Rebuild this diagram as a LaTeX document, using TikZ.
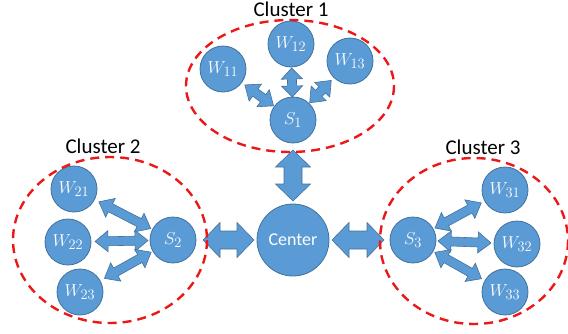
\documentclass[tikz,border=0pt]{standalone}
\usepackage{fontspec}
\setmainfont{Carlito}
\DeclareMathSizes{18}{18}{14}{11}
\usetikzlibrary{calc}
\definecolor{nodeblue}{RGB}{91,155,213}
\definecolor{nodeedge}{RGB}{65,113,156}
\definecolor{dashred}{RGB}{236,24,24}
\tikzset{
  wnode/.style={circle,fill=nodeblue,draw=nodeedge,line width=0.8pt,minimum size=46pt,inner sep=0pt,text=white,font=\fontsize{18}{18}\selectfont},
  cnode/.style={wnode,minimum size=72pt,font=\fontsize{18}{18}\selectfont},
  clusterline/.style={draw=dashred,line width=2.4pt,dash pattern=on 9pt off 6pt},
  clusterlabel/.style={font=\fontsize{21}{21}\selectfont,text=black,inner sep=0pt},
  blockarrow/.style={fill=nodeblue,draw=nodeedge,line width=0.6pt,line join=miter},
}
% #1 from node, #2 to node, #3 start dist, #4 end dist, #5 half shaft, #6 half head, #7 head length
\newcommand\blockarr[7]{%
  \coordinate (ba-s) at ($(#1)!#3!(#2)$);
  \coordinate (ba-e) at ($(#2)!#4!(#1)$);
  \filldraw[blockarrow] (ba-s)
    -- ($(ba-s)!#7!(ba-e)!#6!90:(ba-e)$)
    -- ($(ba-s)!#7!(ba-e)!#5!90:(ba-e)$)
    -- ($(ba-e)!#7!(ba-s)!#5!-90:(ba-s)$)
    -- ($(ba-e)!#7!(ba-s)!#6!-90:(ba-s)$)
    -- (ba-e)
    -- ($(ba-e)!#7!(ba-s)!#6!90:(ba-s)$)
    -- ($(ba-e)!#7!(ba-s)!#5!90:(ba-s)$)
    -- ($(ba-s)!#7!(ba-e)!#5!-90:(ba-e)$)
    -- ($(ba-s)!#7!(ba-e)!#6!-90:(ba-e)$)
    -- cycle;
}
\begin{document}
\begin{tikzpicture}[x=1pt,y=-1pt]
\useasboundingbox (0,0) rectangle (568,333);
% nodes
\node[cnode] (c) at (293,240) {Center};
\node[wnode] (s1) at (293,120) {$S_1$};
\node[wnode] (w11) at (223,69) {$W_{11}$};
\node[wnode] (w12) at (291,44) {$W_{12}$};
\node[wnode] (w13) at (350,61) {$W_{13}$};
\node[wnode] (s2) at (173,240) {$S_2$};
\node[wnode] (w21) at (74,189) {$W_{21}$};
\node[wnode] (w22) at (68,242) {$W_{22}$};
\node[wnode] (w23) at (80,292) {$W_{23}$};
\node[wnode] (s3) at (413,240) {$S_3$};
\node[wnode] (w31) at (505,190) {$W_{31}$};
\node[wnode] (w32) at (517,244) {$W_{32}$};
\node[wnode] (w33) at (505,292) {$W_{33}$};
% small arrows
\blockarr{w11}{s1}{27pt}{24pt}{4.5pt}{10.5pt}{13pt}
\blockarr{w12}{s1}{24pt}{23pt}{4.5pt}{10.5pt}{11pt}
\blockarr{w13}{s1}{27pt}{24pt}{4.5pt}{10.5pt}{13pt}
\blockarr{w21}{s2}{28pt}{25pt}{4.5pt}{10.5pt}{13pt}
\blockarr{w22}{s2}{27pt}{25pt}{4.5pt}{10.5pt}{13pt}
\blockarr{w23}{s2}{28pt}{25pt}{4.5pt}{10.5pt}{13pt}
\blockarr{w31}{s3}{27pt}{25pt}{4.5pt}{10.5pt}{13pt}
\blockarr{w32}{s3}{26pt}{25pt}{4.5pt}{10.5pt}{13pt}
\blockarr{w33}{s3}{27pt}{25pt}{4.5pt}{10.5pt}{13pt}
% big arrows
\blockarr{s1}{c}{30pt}{39pt}{9pt}{17.5pt}{17pt}
\blockarr{s2}{c}{30pt}{39pt}{9pt}{17.5pt}{17pt}
\blockarr{s3}{c}{29pt}{39pt}{9pt}{17.5pt}{17pt}
% clusters
\draw[clusterline] (290,86) ellipse [x radius=104, y radius=66];
\draw[clusterline] (110,240) ellipse [x radius=97, y radius=83];
\draw[clusterline] (474,241) ellipse [x radius=94, y radius=83];
\node[clusterlabel] (l1) at (291,9) {Cluster 1};
\node[clusterlabel] (l2) at (103,146) {Cluster 2};
\node[clusterlabel] (l3) at (483,147) {Cluster 3};
\end{tikzpicture}
\end{document}
